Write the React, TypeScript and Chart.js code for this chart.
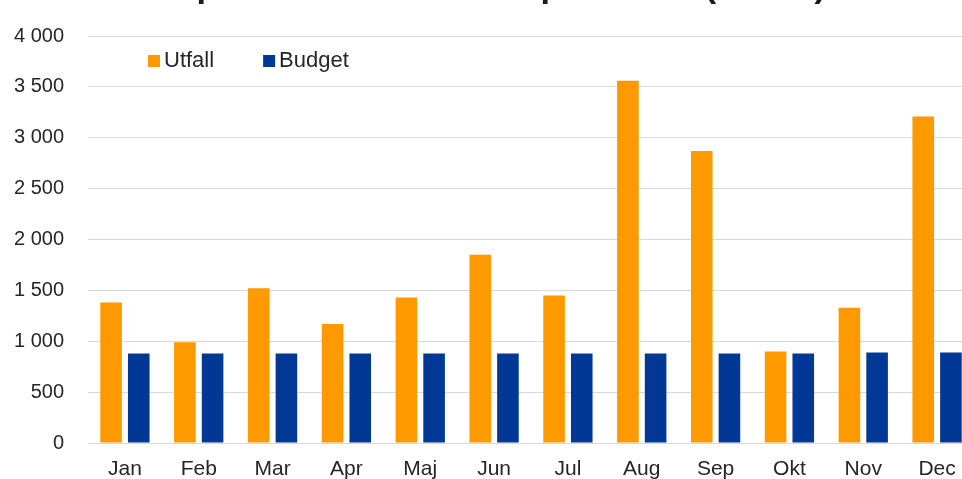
import React, { useEffect, useRef } from "react";
import { Chart, registerables } from "chart.js";

Chart.register(...registerables);

const TITLE = "Kostnader per månad utfall mot plan 2020 (MSEK)";
const MONTHS = ["Jan", "Feb", "Mar", "Apr", "Maj", "Jun", "Jul", "Aug", "Sep", "Okt", "Nov", "Dec"];
const UTFALL = [1380, 990, 1520, 1170, 1430, 1850, 1450, 3560, 2870, 900, 1330, 3210];
const BUDGET = [880, 880, 880, 880, 880, 880, 880, 880, 880, 880, 890, 890];
const SERIES_NAMES = ["Utfall", "Budget"];
const SERIES_COLORS = ["#FF9900", "#013896"];
const Y_MIN = 0;
const Y_MAX = 4000;
const Y_STEP = 500;

const FONT = "'Liberation Sans', Arial, sans-serif";

const titleAndLegend = {
  id: "titleAndLegend",
  afterDraw(chart: any) {
    const { ctx, chartArea } = chart;
    ctx.save();
    // title (largely cut off by the top edge, as in the reference)
    ctx.font = `bold 34px ${FONT}`;
    ctx.fillStyle = "#1a1a1a";
    ctx.textAlign = "left";
    ctx.textBaseline = "alphabetic";
    ctx.fillText(TITLE, 19, -3);

    // legend inside the plot area
    ctx.font = `22px ${FONT}`;
    ctx.textBaseline = "middle";
    let x = chartArea.left + 60;
    const y = 61;
    chart.data.datasets.forEach((ds: any) => {
      ctx.fillStyle = ds.backgroundColor;
      ctx.fillRect(x, y - 6, 12, 12);
      x += 16;
      ctx.fillStyle = "#262626";
      ctx.fillText(ds.label, x, y);
      x += ctx.measureText(ds.label).width + 49;
    });
    ctx.restore();
  },
};

export default function App() {
  const ref = useRef<HTMLCanvasElement | null>(null);

  useEffect(() => {
    if (!ref.current) return;
    const chart = new Chart(ref.current, {
      type: "bar",
      data: {
        labels: MONTHS,
        datasets: [
          {
            label: SERIES_NAMES[0],
            data: UTFALL,
            backgroundColor: SERIES_COLORS[0],
            categoryPercentage: 0.75,
            barPercentage: 0.78,
          },
          {
            label: SERIES_NAMES[1],
            data: BUDGET,
            backgroundColor: SERIES_COLORS[1],
            categoryPercentage: 0.75,
            barPercentage: 0.78,
          },
        ],
      },
      options: {
        animation: false,
        responsive: false,
        maintainAspectRatio: false,
        layout: { padding: { top: 33, right: 16, bottom: 17, left: 0 } },
        plugins: {
          legend: { display: false },
          title: { display: false },
          tooltip: { enabled: false },
        },
        scales: {
          x: {
            afterFit: (s: any) => {
              s.height = 40;
            },
            grid: { display: false, drawTicks: false },
            border: { display: true, color: "#d9d9d9", width: 1 },
            ticks: {
              color: "#262626",
              font: { family: FONT, size: 21 },
              padding: 14,
              maxRotation: 0,
            },
          },
          y: {
            min: Y_MIN,
            max: Y_MAX,
            afterFit: (s: any) => {
              s.width = 88;
            },
            grid: { color: "#d9d9d9", lineWidth: 1, drawTicks: false },
            border: { display: false },
            ticks: {
              stepSize: Y_STEP,
              color: "#262626",
              font: { family: FONT, size: 20 },
              padding: 24,
              callback: (v: any) =>
                String(v).replace(/\B(?=(\d{3})+(?!\d))/g, " "),
            },
          },
        },
      },
      plugins: [titleAndLegend],
    });
    return () => chart.destroy();
  }, []);

  return (
    <div
      style={{
        position: "fixed",
        left: 0,
        top: 0,
        width: 962,
        height: 479,
        overflow: "hidden",
        background: "#ffffff",
      }}
    >
      <canvas
        ref={ref}
        width={990}
        height={500}
        style={{ position: "absolute", left: 0, top: 0, width: 990, height: 500 }}
      />
    </div>
  );
}
